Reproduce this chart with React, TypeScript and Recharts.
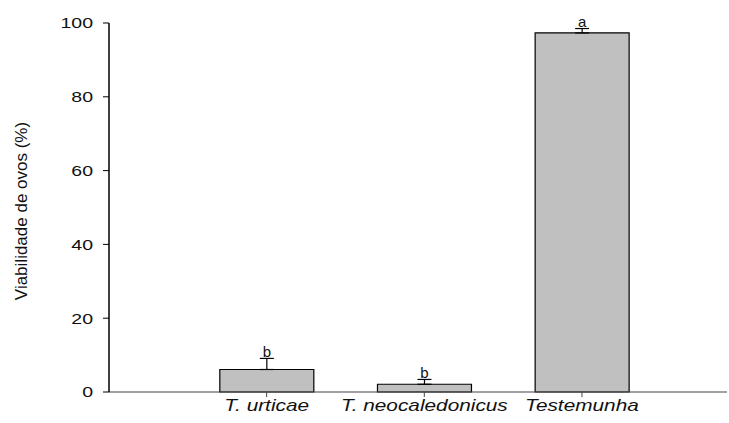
import React from 'react';
import {
  BarChart, Bar, XAxis, YAxis, ErrorBar, LabelList, Label,
} from 'recharts';

const categories = ['T. urticae', 'T. neocaledonicus', 'Testemunha'];
const viability = [6.1, 2.1, 97.3];
const errors = [3.0, 1.3, 1.2];
const letters = ['b', 'b', 'a'];
const yTicks = [0, 20, 40, 60, 80, 100];

const FONT = '"Liberation Sans", Arial, sans-serif';

const data = categories.map((c, i) => ({
  pos: i + 1,
  name: c,
  v: viability[i],
  err: [0, errors[i]],
  letter: letters[i],
}));

const YTick = (props: any) => {
  const { x, y, payload } = props;
  return (
    <text
      transform={`translate(${x},${y}) scale(1.3,1)`}
      textAnchor="end"
      dy="0.36em"
      fontSize={15}
      fontFamily={FONT}
      fill="#111"
    >
      {payload.value}
    </text>
  );
};

const XTick = (props: any) => {
  const { x, y, payload } = props;
  const name = categories[payload.value - 1];
  if (!name) return null;
  return (
    <text
      transform={`translate(${x},${y}) scale(1.3,1)`}
      textAnchor="middle"
      dy="0.71em"
      fontSize={16}
      fontStyle="italic"
      fontFamily={FONT}
      fill="#111"
    >
      {name}
    </text>
  );
};

// letter sits on top of the error bar cap
const LetterLabel = (props: any) => {
  const { x, y, width, height, index } = props;
  const d = data[index];
  const perUnit = height / d.v;
  const capY = y - errors[index] * perUnit;
  return (
    <text
      x={x + width / 2}
      y={capY - 1.5}
      textAnchor="middle"
      fontSize={15}
      fontFamily={FONT}
      fill="#111"
    >
      {d.letter}
    </text>
  );
};

export default function App() {
  return (
    <div style={{ position: 'absolute', left: 0, top: 0, background: '#fff' }}>
      <BarChart
        width={729}
        height={423}
        data={data}
        margin={{ top: 23, right: 2, bottom: 0, left: 0 }}
      >
        <XAxis
          dataKey="pos"
          type="number"
          domain={[0, 3.92]}
          ticks={[1, 2, 3]}
          height={31}
          tickSize={5}
          tickMargin={3}
          tick={<XTick />}
          axisLine={{ stroke: '#444', strokeWidth: 1.2 }}
          tickLine={{ stroke: '#444' }}
        />
        <YAxis
          domain={[0, 100]}
          ticks={yTicks}
          width={109}
          tickSize={6}
          tickMargin={10}
          tick={<YTick />}
          axisLine={{ stroke: '#000', strokeWidth: 1.5 }}
          tickLine={{ stroke: '#000' }}
        >
          <Label
            content={() => (
              <text
                x={27}
                y={211}
                transform="rotate(-90, 27, 211)"
                textAnchor="middle"
                fontSize={17}
                fontFamily={FONT}
                fill="#111"
              >
                Viabilidade de ovos (%)
              </text>
            )}
          />
        </YAxis>
        <Bar
          dataKey="v"
          barSize={94}
          fill="#c0c0c0"
          stroke="#000"
          strokeWidth={1.2}
          isAnimationActive={false}
        >
          <ErrorBar dataKey="err" width={7} stroke="#000" strokeWidth={1.2} />
          <LabelList dataKey="letter" content={<LetterLabel />} />
        </Bar>
      </BarChart>
    </div>
  );
}
